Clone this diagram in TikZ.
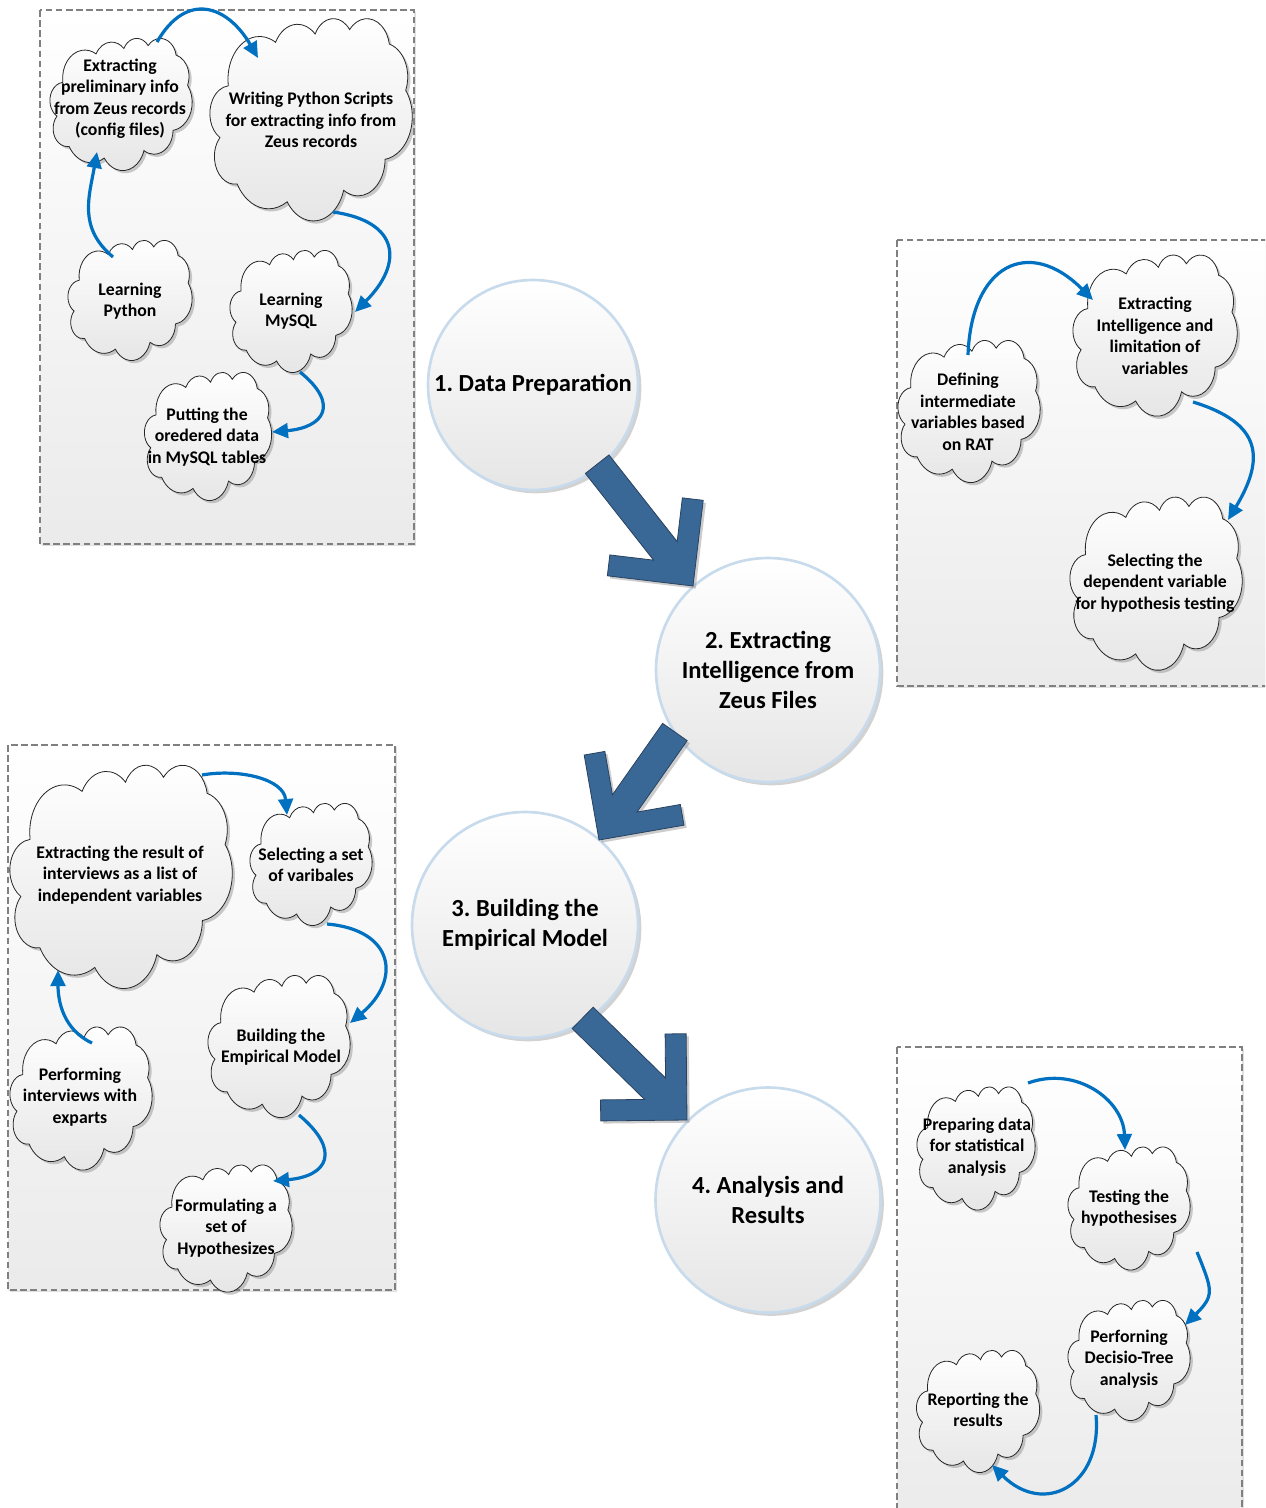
\documentclass[tikz,border=0pt]{standalone}
\usepackage{fontspec}
\setmainfont{Carlito}
\usetikzlibrary{arrows.meta,shadows,calc}
\frenchspacing

\definecolor{flowblue}{RGB}{0,112,192}
\definecolor{blockfill}{RGB}{58,104,150}
\definecolor{blockline}{RGB}{40,66,96}
\definecolor{ringblue}{RGB}{200,219,236}
\definecolor{panelline}{RGB}{128,128,128}

% Office-style cloud outline in a 100 x 100 box (y pointing down)
\newcommand\cloudoutline{(9.028,33.264)
  arc[start angle=172.25,end angle=300.36,x radius=15.632,y radius=21.273]
  arc[start angle=-152.04,end angle=-45.43,x radius=12.345,y radius=16.822]
  arc[start angle=-153.49,end angle=-37.34,x radius=10.104,y radius=13.762]
  arc[start angle=-139.71,end angle=-10.21,x radius=11.243,y radius=15.266]
  arc[start angle=-74.77,end angle=23.21,x radius=12.345,y radius=16.836]
  arc[start angle=-37.52,end angle=81.86,x radius=15.683,y radius=21.343]
  arc[start angle=0.46,end angle=121.98,x radius=13.391,y radius=18.211]
  arc[start angle=16.84,end angle=146.22,x radius=15.630,y radius=21.331]
  arc[start angle=59.00,end angle=150.19,x radius=17.870,y radius=24.405]
  arc[start angle=83.31,end angle=223.11,x radius=10.093,y radius=13.699]
  arc[start angle=120.36,end angle=264.11,x radius=10.058,y radius=13.762]
  -- cycle}

% #1 name, #2/#3 centre, #4/#5 size, #6/#7 text centre, #8 text
\newcommand\vcloud[8]{%
  \coordinate (#1) at (#2,#3);
  \begin{scope}[shift={(#2-#4/2,#3-#5/2)},x={(#4*0.0075pt,0pt)},y={(0pt,-#5*0.0075pt)}]
    \path[cloudbody] \cloudoutline;
  \end{scope}
  \node[cloudtext] (#1t) at (#6,#7) {#8};
}

% block arrow with chevron head, tip at the origin, pointing along +x
\newcommand\blockarrow[1]{%
  \path[blockarrow] (0,0) -- (-61,61) -- (-75.85,46.15) -- (-44.7,15) -- (-#1,15)
    -- (-#1,-15) -- (-44.7,-15) -- (-75.85,-46.15) -- (-61,-61) -- cycle;
}

\tikzset{
  panel/.style={draw=panelline, line width=0.8pt, dash pattern=on 5pt off 2.6pt,
    top color=white, bottom color=black!8,
    drop shadow={shadow xshift=1.5pt,shadow yshift=-1.5pt,opacity=.25,fill=black!50}},
  cloudbody/.style={draw=black!85, line width=0.6pt, top color=white, bottom color=black!10,
    drop shadow={shadow xshift=2pt,shadow yshift=-2pt,opacity=.45,fill=black!45}},
  cloudtext/.style={align=center, inner sep=0pt,
    font=\fontsize{13.3pt}{16.1pt}\selectfont\bfseries},
  stagecircle/.style={circle, draw=ringblue, line width=2pt, inner sep=0pt,
    top color=white, bottom color=black!10, align=center,
    font=\fontsize{18.4pt}{22.2pt}\selectfont\bfseries,
    drop shadow={shadow xshift=2.5pt,shadow yshift=-2.5pt,opacity=.35,fill=black!50}},
  blockarrow/.style={fill=blockfill, draw=blockline, line width=0.6pt,
    drop shadow={shadow xshift=2pt,shadow yshift=-2pt,opacity=.4,fill=black!50}},
  flow/.style={draw=flowblue, line width=2.4pt,
    -{Triangle[length=12pt,width=11pt]}},
}

\begin{document}
\begin{tikzpicture}[x=0.75pt,y=-0.75pt]
  \clip (0,0) rectangle (1265,1508);
  \fill[white] (0,0) rectangle (1265,1508);

  % dashed panels
  \path[panel] (40,10) rectangle (414,544);
  \path[panel] (897,240) rectangle (1285,686);
  \path[panel] (8,745) rectangle (395,1290);
  \path[panel] (897,1047) rectangle (1242,1530);

  % main stages
  \node[stagecircle, minimum size=157.5pt] (p1) at (533,385) {1. Data Preparation};
  \node[stagecircle, minimum size=168pt] (p2) at (768,670) {2. Extracting\\Intelligence from\\Zeus Files};
  \node[stagecircle, minimum size=169.5pt] (p3) at (525,925) {3. Building the\\Empirical Model};
  \node[stagecircle, minimum size=168.75pt] (p4) at (768,1200) {4. Analysis and\\Results};

  % block arrows between the stages
  \coordinate (a1tip) at (693,586);
  \coordinate (a2tip) at (599,840);
  \coordinate (a3tip) at (687,1120);
  \begin{scope}[shift={(a1tip)},rotate=-51.8]\blockarrow{155}\end{scope}
  \begin{scope}[shift={(a2tip)},rotate=-125.1]\blockarrow{132}\end{scope}
  \begin{scope}[shift={(a3tip)},rotate=-44.4]\blockarrow{146}\end{scope}

  % panel 1: data preparation
  \vcloud{c1}{121}{104}{142}{132}{120}{99}{Extracting\\preliminary info\\from Zeus records\\(config files)}
  \vcloud{c2}{311}{119}{202}{202}{311}{120}{Writing Python Scripts\\for extracting info from\\Zeus records}
  \vcloud{c3}{130}{300}{124}{120}{130}{301}{Learning\\Python}
  \vcloud{c4}{291}{311}{122}{122}{291}{311}{Learning\\MySQL}
  \vcloud{c5}{208}{436}{127}{128}{207}{437}{Putting the\\oredered data\\in MySQL tables}

  % panel 2: extracting intelligence
  \vcloud{d1}{969}{411}{142}{142}{968}{412}{Defining\\intermediate\\variables based\\on RAT}
  \vcloud{d2}{1155}{335}{164}{161}{1155}{336}{Extracting\\Intelligence and\\limitation of\\variables}
  \vcloud{d3}{1156}{583}{172}{173}{1155}{583}{Selecting the\\dependent variable\\for hypothesis testing}

  % panel 3: building the model
  \vcloud{e1}{121}{876}{222}{223}{120}{875}{Extracting the result of\\interviews as a list of\\independent variables}
  \vcloud{e2}{311}{864}{122}{122}{311}{865}{Selecting a set\\of varibales}
  \vcloud{e3}{279}{1046}{142}{142}{281}{1047}{Building the\\Empirical Model}
  \vcloud{e4}{81}{1098}{142}{143}{80}{1097}{Performing\\interviews with\\exparts}
  \vcloud{e5}{226}{1228}{132}{127}{226}{1228}{Formulating a\\set of\\Hypothesizes}

  % panel 4: analysis
  \vcloud{f1}{976}{1148}{118}{123}{977}{1147}{Preparing data\\for statistical\\analysis}
  \vcloud{f2}{1129}{1208}{122}{123}{1129}{1208}{Testing the\\hypothesises}
  \vcloud{f3}{1129}{1360}{122}{120}{1129}{1359}{Perforning\\Decisio-Tree\\analysis}
  \vcloud{f4}{978}{1411}{123}{122}{978}{1410}{Reporting the\\results}

  % step connectors
  \draw[flow] ($(c3)+(-17,-43)$) to[out=140,in=-100,looseness=1.1] ($(c1)+(-24,48)$);
  \draw[flow] ($(c1)+(36,-62)$) to[out=60,in=120,looseness=1.5] ($(c2)+(-53,-61)$);
  \draw[flow] ($(c2)+(22,93)$) to[out=-8,in=45,looseness=1.7] ($(c4)+(64,1)$);
  \draw[flow] ($(c4)+(9,61)$) to[out=-39,in=5,looseness=2] ($(c5)+(64,-4)$);

  \draw[flow] ($(d1)+(-1,-56)$) to[out=88,in=135,looseness=1.7] ($(d2)+(-62,-35)$);
  \draw[flow] ($(d2)+(38,67)$) to[out=-17,in=59,looseness=1.5] ($(d3)+(72,-63)$);

  \draw[flow] ($(e4)+(11,-55)$) to[out=155,in=-90] ($(e1)+(-63,94)$);
  \draw[flow] ($(e1)+(81,-101)$) to[out=10,in=95] ($(e2)+(-24,-49)$);
  \draw[flow] ($(e2)+(16,60)$) to[out=-5,in=40,looseness=1.7] ($(e3)+(71,-23)$);
  \draw[flow] ($(e3)+(20,69)$) to[out=-40,in=5,looseness=2] ($(e5)+(47,-47)$);

  \draw[flow] ($(f1)+(52,-65)$) to[out=20,in=92,looseness=1.1] ($(f2)+(-4,-58)$);
  \draw[flow] ($(f2)+(68,44)$) to[out=-68,in=45,looseness=1.45] ($(f3)+(56,-35)$);
  \draw[flow] ($(f3)+(-33,55)$) to[out=-85,in=-45,looseness=1.6] ($(f4)+(14,54)$);
\end{tikzpicture}
\end{document}
